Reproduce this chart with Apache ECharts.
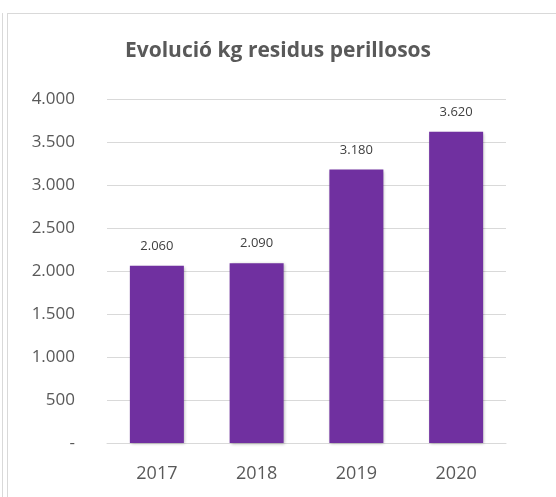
<!DOCTYPE html>
<html>
<head>
<meta charset="utf-8">
<script src="https://cdn.jsdelivr.net/npm/echarts@6/dist/echarts.min.js"></script>
<style>
  html, body { margin: 0; padding: 0; background: #fff; }
  .frame-outer { position: absolute; left: 2px; top: 13px; width: 1px; height: 484px; background: #d9d9d9; }
  .frame { position: absolute; left: 7px; top: 13px; width: 560px; height: 500px; border: 1px solid #d9d9d9; box-sizing: border-box; }
  #chart { position: absolute; left: 0; top: 0; width: 556px; height: 497px; }
</style>
</head>
<body>
<div class="frame-outer"></div>
<div class="frame"></div>
<div id="chart"></div>
<script>
const years = ['2017', '2018', '2019', '2020']
const kgValues = [2060, 2090, 3180, 3620]
const yTicks = [0, 500, 1000, 1500, 2000, 2500, 3000, 3500, 4000]

// format numbers with dot thousands separator, zero as "-"
function fmt (v) {
  if (v === 0) return '-'
  return String(v).replace(/\B(?=(\d{3})+(?!\d))/g, '.')
}

const chart = echarts.init(document.getElementById('chart'))
chart.setOption({
  animation: false,
  title: {
    text: 'Evolució kg residus perillosos',
    left: 'center',
    top: 36,
    textStyle: {
      color: '#595959',
      fontSize: 21,
      fontWeight: 'bold',
      fontFamily: 'Open Sans'
    }
  },
  grid: {
    left: 107,
    right: 50,
    top: 99,
    bottom: 54
  },
  xAxis: {
    type: 'category',
    data: years,
    axisLine: { show: true, lineStyle: { color: '#d9d9d9' } },
    axisTick: { show: false },
    axisLabel: {
      color: '#595959',
      fontSize: 18,
      fontFamily: 'Open Sans',
      margin: 22
    }
  },
  yAxis: {
    type: 'value',
    min: yTicks[0],
    max: yTicks[yTicks.length - 1],
    interval: 500,
    axisLine: { show: false },
    axisTick: { show: false },
    splitLine: { lineStyle: { color: '#d9d9d9' } },
    axisLabel: {
      color: '#595959',
      fontSize: 17,
      fontFamily: 'Open Sans',
      margin: 32,
      formatter: fmt
    }
  },
  series: [
    {
      type: 'bar',
      data: kgValues,
      barWidth: 54,
      itemStyle: {
        color: '#7030a0',
        shadowColor: 'rgba(0,0,0,0.3)',
        shadowBlur: 3,
        shadowOffsetX: 1,
        shadowOffsetY: 1
      },
      label: {
        show: true,
        position: 'top',
        distance: 13,
        color: '#404040',
        fontSize: 13,
        fontFamily: 'Open Sans',
        formatter: function (p) { return fmt(p.value) }
      }
    }
  ]
})
</script>
</body>
</html>
